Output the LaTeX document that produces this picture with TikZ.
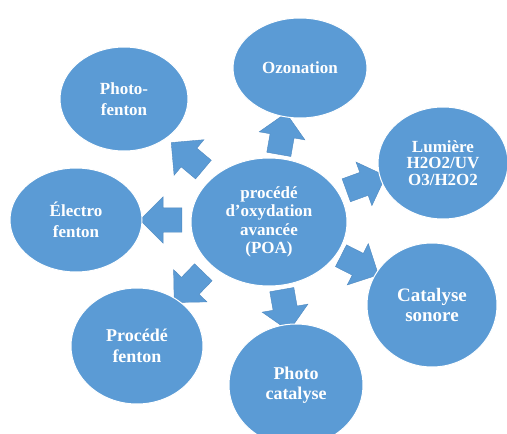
\documentclass[tikz,border=0pt]{standalone}
\usepackage{fontspec}
\setmainfont{Liberation Serif}
\usetikzlibrary{shapes.geometric,shapes.arrows,backgrounds}
\definecolor{poablue}{HTML}{5B9BD5}
\definecolor{poaedge}{HTML}{4F89C0}
\begin{document}
\begin{tikzpicture}[x=1pt,y=1pt,
  bubble/.style={ellipse, fill=poablue, draw=white, line width=1pt, inner sep=0pt,
    text=white, font=\bfseries\fontsize{17}{18.5}\selectfont, align=center},
  blockarrow/.style={single arrow, fill=poablue, draw=poaedge, line width=0.4pt,
    inner xsep=0pt, inner ysep=12pt, single arrow head extend=11pt,
    minimum height=42pt}]
\useasboundingbox (0,0) rectangle (507,-434);

\node[bubble, minimum width=156pt, minimum height=128pt] (poa) at (269,-222)
  {procédé\\d’oxydation\\avancée\\(POA)};
\node[bubble, minimum width=134pt, minimum height=100pt] (oz) at (300,-68) {Ozonation};
\node[bubble, minimum width=128pt, minimum height=104pt,
  font=\bfseries\fontsize{17}{21}\selectfont] (pf) at (124,-99) {Photo-\\fenton};
\node[bubble, minimum width=132pt, minimum height=104pt,
  font=\bfseries\fontsize{17}{21}\selectfont] (ef) at (76,-220) {Électro\\fenton};
\node[bubble, minimum width=130pt, minimum height=112pt,
  font=\bfseries\fontsize{17}{16.5}\selectfont] (lu) at (443,-163) {Lumière\\H2O2/UV\\O3/H2O2};
\node[bubble, minimum width=130pt, minimum height=124pt,
  font=\bfseries\fontsize{19}{20}\selectfont] (cs) at (432,-305) {Catalyse\\sonore};
\node[bubble, minimum width=132pt, minimum height=116pt,
  font=\bfseries\fontsize{18}{21}\selectfont] (pr) at (137,-346) {Procédé\\fenton};
\node[bubble, minimum width=134pt, minimum height=122pt,
  font=\bfseries\fontsize{18}{20}\selectfont] (pc) at (296,-385) {Photo\\catalyse};

\begin{pgfonlayer}{background}
\node[blockarrow, rotate=80]  (a1) at (281.4,-139.7) {};
\node[blockarrow, rotate=140] (a2) at (192,-160) {};
\node[blockarrow, rotate=180] (a3) at (167,-220) {};
\node[blockarrow, rotate=226] (a4) at (193,-283) {};
\node[blockarrow, rotate=-80] (a5) at (284.4,-304.3) {};
\node[blockarrow, rotate=-27] (a6) at (354.3,-262.5) {};
\node[blockarrow, rotate=20]  (a7) at (360.3,-185.2) {};
\end{pgfonlayer}
\end{tikzpicture}
\end{document}
